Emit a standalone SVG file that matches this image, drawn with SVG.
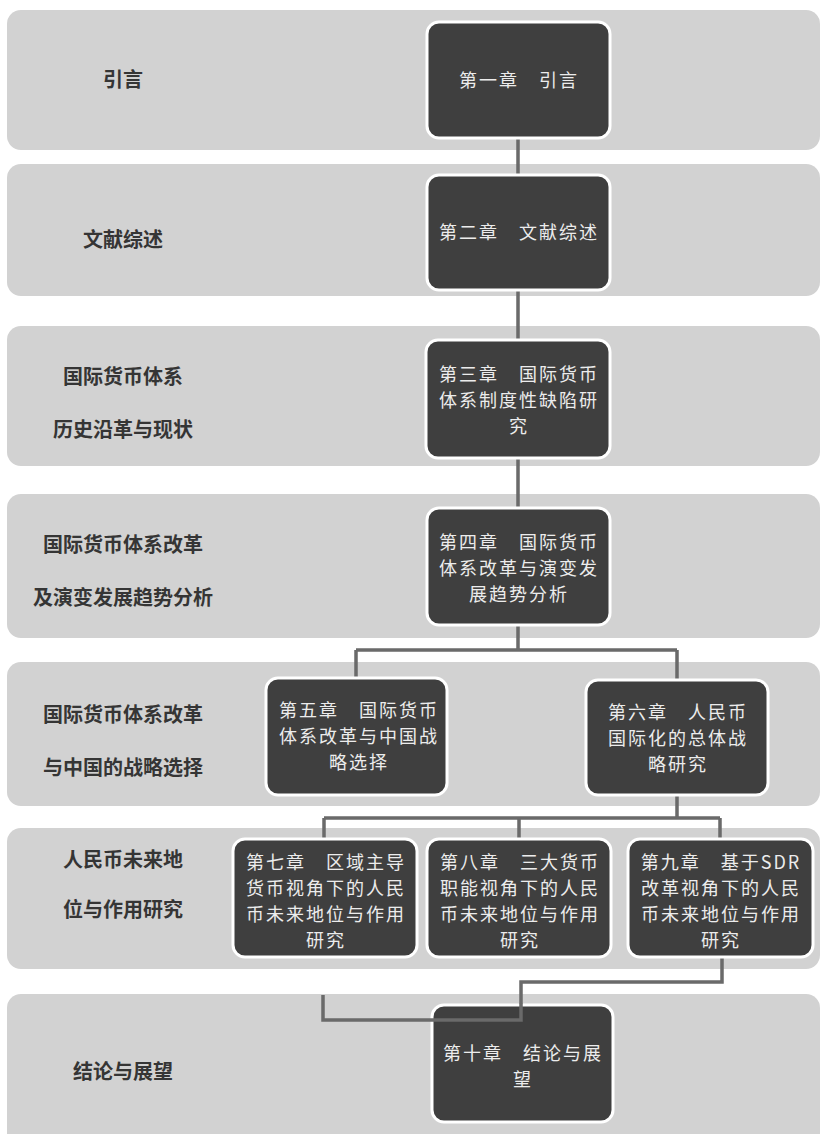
<svg xmlns="http://www.w3.org/2000/svg" width="823" height="1134" viewBox="0 0 823 1134">
<style>
.band{fill:#d2d2d2}
.node rect{fill:#3f3f3f;stroke:#ffffff;stroke-width:3}
.node text{fill:#ececec;font-family:"Noto Sans CJK SC","Noto Sans",sans-serif;font-size:18px;letter-spacing:2px;text-anchor:middle}
.lbl{fill:#353535;font-family:"Noto Sans CJK SC","Noto Sans",sans-serif;font-size:20px;font-weight:bold;text-anchor:middle}
.conn{fill:none;stroke:#6a6a6a;stroke-width:3.5}
</style>
<rect width="823" height="1134" fill="#ffffff"/>
<g id="bands">
<rect class="band" x="7" y="10" width="813" height="140" rx="14"/>
<rect class="band" x="7" y="164" width="813" height="132" rx="14"/>
<rect class="band" x="7" y="326" width="813" height="140" rx="14"/>
<rect class="band" x="7" y="494" width="813" height="144" rx="14"/>
<rect class="band" x="7" y="662" width="813" height="144" rx="14"/>
<rect class="band" x="7" y="828" width="813" height="141" rx="14"/>
<rect class="band" x="7" y="994" width="813" height="160" rx="14"/>
</g>
<g id="labels">
<text class="lbl" x="123" y="87">引言</text>
<text class="lbl" x="123" y="247">文献综述</text>
<text class="lbl" x="123" y="384">国际货币体系</text>
<text class="lbl" x="123" y="437">历史沿革与现状</text>
<text class="lbl" x="123" y="552">国际货币体系改革</text>
<text class="lbl" x="123" y="605">及演变发展趋势分析</text>
<text class="lbl" x="123" y="722">国际货币体系改革</text>
<text class="lbl" x="123" y="775">与中国的战略选择</text>
<text class="lbl" x="123" y="867">人民币未来地</text>
<text class="lbl" x="123" y="917">位与作用研究</text>
<text class="lbl" x="123" y="1079">结论与展望</text>
</g>
<g id="connectors-back">
<path class="conn" d="M518 138 V175 M518 290 V340 M518 458 V508 M518 625 V650 M356 650 H677 M356 650 V678 M677 650 V680 M677 795 V818 M324 818 H720 M324 818 V839 M519 818 V839 M720 818 V839 M722 957 V982 H521 V1005"/>
</g>
<g id="ch1" class="node"><rect x="427" y="22" width="183" height="116" rx="12"/><text x="519" y="87">第一章　引言</text></g>
<g id="ch2" class="node"><rect x="427" y="175" width="183" height="115" rx="12"/><text x="519" y="239">第二章　文献综述</text></g>
<g id="ch3" class="node"><rect x="426" y="340" width="184" height="118" rx="12"/><text x="519" y="381">第三章　国际货币</text><text x="519" y="407">体系制度性缺陷研</text><text x="519" y="433">究</text></g>
<g id="ch4" class="node"><rect x="427" y="508" width="183" height="117" rx="12"/><text x="519" y="549">第四章　国际货币</text><text x="519" y="575">体系改革与演变发</text><text x="519" y="601">展趋势分析</text></g>
<g id="ch5" class="node"><rect x="266" y="678" width="181" height="117" rx="12"/><text x="359" y="717">第五章　国际货币</text><text x="359" y="743">体系改革与中国战</text><text x="359" y="769">略选择</text></g>
<g id="ch6" class="node"><rect x="586" y="680" width="182" height="115" rx="12"/><text x="678" y="719">第六章　人民币</text><text x="678" y="745">国际化的总体战</text><text x="678" y="771">略研究</text></g>
<g id="ch7" class="node"><rect x="233" y="839" width="184" height="118" rx="12"/><text x="326" y="869">第七章　区域主导</text><text x="326" y="895">货币视角下的人民</text><text x="326" y="921">币未来地位与作用</text><text x="326" y="947">研究</text></g>
<g id="ch8" class="node"><rect x="427" y="839" width="184" height="118" rx="12"/><text x="520" y="869">第八章　三大货币</text><text x="520" y="895">职能视角下的人民</text><text x="520" y="921">币未来地位与作用</text><text x="520" y="947">研究</text></g>
<g id="ch9" class="node"><rect x="628" y="839" width="185" height="118" rx="12"/><text x="721" y="869">第九章　基于SDR</text><text x="721" y="895">改革视角下的人民</text><text x="721" y="921">币未来地位与作用</text><text x="721" y="947">研究</text></g>
<g id="ch10" class="node"><rect x="432" y="1005" width="181" height="117" rx="12"/><text x="523" y="1060">第十章　结论与展</text><text x="523" y="1086">望</text></g>
<g id="connectors-front">
<path class="conn" d="M521 1003 V1020 H323 V995" stroke="#777777"/>
</g>
</svg>
